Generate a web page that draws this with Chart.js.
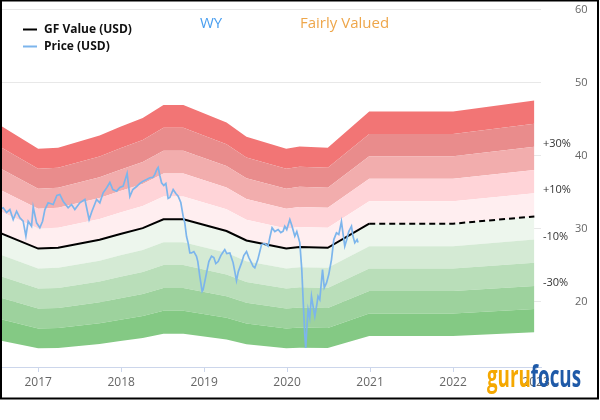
<!DOCTYPE html>
<html>
<head>
<meta charset="utf-8">
<script src="https://cdn.jsdelivr.net/npm/chart.js@4.4.1/dist/chart.umd.min.js"></script>
<style>
  body { margin: 0; background: #fff; }
</style>
</head>
<body>
<canvas id="chart" width="600" height="420"></canvas>
<script>
'use strict';

// ticker + valuation text
var ticker = 'WY';
var verdict = 'Fairly Valued';

// GF Value line (decimal years), dashed after forecastStart
var gfYears = [2016.54, 2017.0, 2017.24, 2017.74, 2017.99, 2018.26, 2018.51, 2018.75, 2019.27, 2019.51, 2019.99, 2020.15, 2020.49, 2020.99, 2022.0, 2022.98];
var gfValues = [29.45, 27.3, 27.4, 28.5, 29.3, 30.1, 31.3, 31.3, 29.7, 28.4, 27.3, 27.5, 27.4, 30.7, 30.7, 31.7];
var forecastStart = 2020.99;

// price
var priceYears = [
  2016.539, 2016.578, 2016.619, 2016.659, 2016.699, 2016.740, 2016.780, 2016.819, 2016.852, 2016.880,
  2016.920, 2016.940, 2016.981, 2017.020, 2017.053, 2017.081, 2017.120, 2017.181, 2017.225, 2017.261,
  2017.301, 2017.361, 2017.402, 2017.442, 2017.502, 2017.563, 2017.614, 2017.647, 2017.704, 2017.743,
  2017.783, 2017.828, 2017.864, 2017.900, 2017.945, 2017.984, 2018.024, 2018.072, 2018.105, 2018.141,
  2018.186, 2018.225, 2018.265, 2018.306, 2018.346, 2018.382, 2018.406, 2018.430, 2018.446, 2018.466,
  2018.487, 2018.514, 2018.539, 2018.566, 2018.587, 2018.627, 2018.659, 2018.687, 2018.719, 2018.747,
  2018.767, 2018.788, 2018.807, 2018.828, 2018.848, 2018.876, 2018.908, 2018.924, 2018.948, 2018.976,
  2018.988, 2019.008, 2019.029, 2019.057, 2019.089, 2019.117, 2019.141, 2019.169, 2019.201, 2019.225,
  2019.249, 2019.273, 2019.310, 2019.349, 2019.370, 2019.390, 2019.412, 2019.451, 2019.478, 2019.511,
  2019.539, 2019.571, 2019.590, 2019.611, 2019.647, 2019.692, 2019.731, 2019.771, 2019.792, 2019.819,
  2019.852, 2019.892, 2019.924, 2019.952, 2019.972, 2019.996, 2020.033, 2020.057, 2020.093, 2020.117,
  2020.153, 2020.177, 2020.193, 2020.213, 2020.225, 2020.237, 2020.253, 2020.273, 2020.294, 2020.310,
  2020.334, 2020.358, 2020.373, 2020.394, 2020.427, 2020.448, 2020.475, 2020.502, 2020.535, 2020.563,
  2020.595, 2020.623, 2020.655, 2020.671, 2020.695, 2020.719, 2020.743, 2020.776, 2020.792, 2020.816,
  2020.843, 2020.855
];
var priceValues = [
  32.64, 32.88, 32.23, 32.64, 31.27, 32.41, 31.51, 31.04, 28.99, 31.04,
  30.36, 32.99, 30.82, 30.14, 31.04, 32.64, 33.56, 33.33, 34.56, 34.70,
  33.78, 32.88, 33.33, 32.64, 33.56, 34.01, 31.27, 32.37, 34.01, 33.56,
  34.93, 35.66, 36.34, 35.38, 35.15, 35.66, 35.84, 37.58, 34.42, 35.38,
  35.79, 36.21, 36.52, 36.75, 36.99, 37.03, 37.44, 38.12, 38.40, 37.30,
  36.30, 35.93, 36.21, 34.15, 34.29, 35.38, 34.84, 34.47, 33.60, 31.73,
  30.82, 28.95, 28.08, 26.71, 26.71, 26.89, 26.25, 25.52, 23.51, 21.45,
  21.68, 22.78, 23.97, 25.52, 26.25, 26.07, 25.25, 25.52, 26.34, 26.75,
  27.16, 26.62, 26.71, 25.38, 24.15, 22.92, 24.15, 25.34, 26.34, 26.89,
  26.07, 25.34, 24.88, 24.66, 25.79, 27.85, 27.99, 27.62, 28.81, 30.14,
  29.63, 29.90, 29.49, 29.67, 30.36, 29.90, 31.27, 30.45, 28.99, 29.63,
  28.12, 24.42, 20.32, 15.52, 13.70, 16.21, 18.95, 17.85, 20.77, 19.63,
  18.03, 19.63, 20.77, 20.32, 24.42, 21.96, 22.60, 23.74, 25.79, 28.53,
  29.45, 29.22, 31.00, 29.63, 27.62, 28.53, 29.63, 30.36, 29.08, 28.08,
  28.53, 28.12
];

// valuation bands around GF Value, bottom to top
var bandLevels = [0.5, 0.6, 0.7, 0.8, 0.9, 1.0, 1.1, 1.2, 1.3, 1.4, 1.5];
var bandColors = ['#84c984', '#9dd29d', '#b9deb9', '#d4ead4', '#edf6ed',
                  '#ffeef0', '#ffd4d8', '#f2adad', '#e98c8c', '#f27575'];

// labels on the right edge of the bands
var pctLabels = ['+30%', '+10%', '-10%', '-30%'];
var pctLevels = [1.3, 1.1, 0.9, 0.7];

// axes
var xMin = 2016.54, xMax = 2023.06;
var xTicks = [2017, 2018, 2019, 2020, 2021, 2022, 2023];
var yMin = 11.1, yMax = 60;
var yTicks = [20, 30, 40, 50, 60];

var FONT = '"Open Sans", "DejaVu Sans", sans-serif';

function points(xs, ys, mult) {
  var out = [];
  for (var i = 0; i < xs.length; i++) {
    out.push({ x: xs[i], y: ys[i] * (mult || 1) });
  }
  return out;
}

var datasets = [];
datasets.push({
  label: 'Price (USD)',
  data: points(priceYears, priceValues),
  borderColor: '#7cb5ec',
  borderWidth: 1.7,
  pointRadius: 0,
  tension: 0,
  fill: false
});
datasets.push({
  label: 'GF Value (USD)',
  data: points(gfYears, gfValues),
  borderColor: '#000',
  borderWidth: 2,
  pointRadius: 0,
  tension: 0,
  fill: false,
  segment: {
    borderDash: function(ctx) {
      return ctx.p0.parsed.x >= forecastStart - 0.001 ? [6, 4] : undefined;
    }
  }
});
for (var b = 0; b < bandLevels.length; b++) {
  datasets.push({
    label: 'band' + b,
    data: points(gfYears, gfValues, bandLevels[b]),
    borderWidth: 0,
    borderColor: 'rgba(0,0,0,0)',
    pointRadius: 0,
    tension: 0,
    fill: b === 0 ? false : '-1',
    backgroundColor: b === 0 ? 'rgba(0,0,0,0)' : bandColors[b - 1]
  });
}

var extras = {
  id: 'extras',
  beforeDraw: function(chart) {
    var ctx = chart.ctx;
    ctx.save();
    ctx.fillStyle = '#fff';
    ctx.fillRect(0, 0, chart.width, chart.height);
    ctx.restore();
  },
  afterDraw: function(chart) {
    var ctx = chart.ctx;
    var ys = chart.scales.y;
    var area = chart.chartArea;
    ctx.save();

    // legend
    ctx.lineWidth = 2;
    ctx.strokeStyle = '#000';
    ctx.beginPath(); ctx.moveTo(23, 29.5); ctx.lineTo(37, 29.5); ctx.stroke();
    ctx.strokeStyle = '#7cb5ec';
    ctx.beginPath(); ctx.moveTo(23, 46.5); ctx.lineTo(37, 46.5); ctx.stroke();
    ctx.fillStyle = '#111';
    ctx.font = 'bold 12px ' + FONT;
    ctx.textBaseline = 'middle';
    ctx.textAlign = 'left';
    ctx.fillText('GF Value (USD)', 44, 29.5);
    ctx.fillText('Price (USD)', 44, 46.5);

    // ticker + verdict
    ctx.font = '15px ' + FONT;
    ctx.fillStyle = '#4a9ff0';
    ctx.fillText(ticker, 200, 24);
    ctx.fillStyle = '#eea64a';
    ctx.fillText(verdict, 300, 24);

    // percentage labels
    var last = gfValues[gfValues.length - 1];
    ctx.font = '11px ' + FONT;
    ctx.fillStyle = '#333';
    for (var i = 0; i < pctLabels.length; i++) {
      ctx.fillText(pctLabels[i], area.right + 2, ys.getPixelForValue(last * pctLevels[i]) - 3);
    }

    // gurufocus logo
    ctx.font = 'bold 30px "Liberation Sans Narrow", ' + FONT;
    ctx.textBaseline = 'alphabetic';
    var w1 = ctx.measureText('guru').width;
    var w2 = ctx.measureText('focus').width;
    var sx = 94 / (w1 + w2);
    ctx.translate(487, 387);
    ctx.scale(sx, 1);
    ctx.fillStyle = '#f5a800';
    ctx.fillText('guru', 0, 0);
    ctx.fillStyle = '#1f5aa8';
    ctx.fillText('focus', w1, 0);
    ctx.setTransform(1, 0, 0, 1, 0, 0);

    // frame
    ctx.strokeStyle = '#000';
    ctx.lineWidth = 2;
    ctx.strokeRect(1, 0.5, 597, 398);
    ctx.restore();
  }
};

new Chart(document.getElementById('chart'), {
  type: 'line',
  data: { datasets: datasets },
  options: {
    responsive: false,
    animation: false,
    layout: { padding: { left: 0, top: 9.5, right: 0, bottom: 0 } },
    plugins: {
      legend: { display: false },
      tooltip: { enabled: false }
    },
    scales: {
      x: {
        type: 'linear',
        min: xMin,
        max: xMax,
        afterBuildTicks: function(axis) {
          axis.ticks = xTicks.map(function(v) { return { value: v }; });
        },
        afterFit: function(axis) { axis.height = 53; },
        ticks: {
          color: '#666',
          font: { family: FONT, size: 12 },
          padding: 3,
          maxRotation: 0,
          callback: function(v) { return String(v); }
        },
        grid: { drawOnChartArea: false, drawTicks: true, tickLength: 5, color: '#ccd6eb' },
        border: { color: '#ccd6eb' }
      },
      y: {
        position: 'right',
        min: yMin,
        max: yMax,
        z: 1,
        afterBuildTicks: function(axis) {
          axis.ticks = yTicks.map(function(v) { return { value: v }; });
        },
        afterFit: function(axis) { axis.width = 59; },
        ticks: {
          color: '#666',
          font: { family: FONT, size: 11 },
          padding: 0
        },
        // invisible tick marks push the labels out to the right
        grid: { color: 'rgba(0,0,0,0.09)', drawTicks: true, tickLength: 34, tickColor: 'rgba(0,0,0,0)' },
        border: { display: false }
      }
    }
  },
  plugins: [extras]
});
</script>
</body>
</html>
